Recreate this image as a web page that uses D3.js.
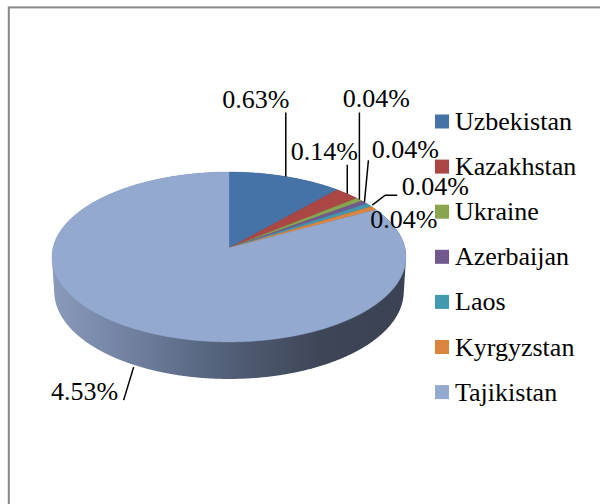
<!DOCTYPE html>
<html>
<head>
<meta charset="utf-8">
<script src="https://cdn.jsdelivr.net/npm/d3@7"></script>
<style>
  body { margin: 0; background: #fff; }
</style>
</head>
<body>
<div id="viz"></div>
<script>
'use strict';

var countries = ['Uzbekistan', 'Kazakhstan', 'Ukraine', 'Azerbaijan', 'Laos', 'Kyrgyzstan', 'Tajikistan'];
var shares = [0.63, 0.14, 0.04, 0.04, 0.04, 0.04, 4.53];
var labels = ['0.63%', '0.14%', '0.04%', '0.04%', '0.04%', '0.04%', '4.53%'];
var colors = ['#4572A7', '#AA4643', '#89A54E', '#71588F', '#4198AF', '#DB843D', '#93A9CF'];

var width = 600,
    height = 504;

// label layout: text offset from slice anchor and leader polyline (offsets)
var labelOffsets = [[-30, -69], [-23, -34], [17, -93], [41, -44], [66, -10], [30, 20], [-47, 36]];
var leaders = [
    [[0, 0], [0, -64]],
    [[0, 0], [0, -29]],
    [[0, 0], [0, -87]],
    [[0, 0], [4, -42]],
    [[3, 0], [16, -10], [28, -10]],
    [],
    [[2, 3], [-8, 36]]
];

// perspective 3D pie
var cx = 229, cy = 248,
    dist = 8.3, focal = 1461,
    tilt = 28.5 * Math.PI / 180,
    depth = 0.225;

function project(theta, r, z) {
    var x = r * Math.sin(theta),
        y = -r * Math.cos(theta);
    var v = y * Math.sin(tilt) - z * Math.cos(tilt);
    var d = dist - y * Math.cos(tilt) - z * Math.sin(tilt);
    return [cx + focal * x / d, cy + focal * v / d];
}

function rim(a0, a1, z) {
    var pts = [];
    var n = Math.max(2, Math.ceil((a1 - a0) / 0.005));
    for (var i = 0; i <= n; i++) {
        pts.push(project(a0 + (a1 - a0) * i / n, 1, z));
    }
    return pts;
}

var svg = d3.select('#viz').append('svg')
    .attr('width', width)
    .attr('height', height)
    .attr('font-family', "'Liberation Serif', 'DejaVu Serif', 'Times New Roman', serif")
    .attr('font-size', 26);

svg.append('rect')
    .attr('x', 8.8)
    .attr('y', 7.4)
    .attr('width', 700)
    .attr('height', 700)
    .attr('fill', 'none')
    .attr('stroke', '#888')
    .attr('stroke-width', 2);

var pie = d3.pie().sort(null).value(d => d)(shares);

var grad = svg.append('defs').append('linearGradient')
    .attr('id', 'side')
    .attr('gradientUnits', 'userSpaceOnUse')
    .attr('x1', 53).attr('x2', 405)
    .attr('y1', 0).attr('y2', 0);
grad.selectAll('stop')
    .data([[0, '#8a9abb'], [0.25, '#6e7d9c'], [0.44, '#57657f'], [0.63, '#485267'], [0.77, '#3d4556'], [1, '#3b4253']])
    .enter().append('stop')
    .attr('offset', d => d[0])
    .attr('stop-color', d => d[1]);

// side wall: hull of top and bottom rims
var hull = d3.polygonHull(rim(0, 2 * Math.PI, 0).concat(rim(0, 2 * Math.PI, -depth)));
svg.append('path')
    .attr('d', 'M' + hull.join('L') + 'Z')
    .attr('fill', 'url(#side)');

// top surface slices
svg.append('g')
    .selectAll('path')
    .data(pie)
    .enter().append('path')
    .attr('d', function(d) {
        var pts = [[cx, cy]].concat(rim(d.startAngle, d.endAngle, 0));
        return 'M' + pts.join('L') + 'Z';
    })
    .attr('fill', (d, i) => colors[i])
    .attr('stroke', (d, i) => colors[i])
    .attr('stroke-width', 0.4);

// data labels
var anchors = pie.map(function(d, i) {
    var mid = (d.startAngle + d.endAngle) / 2;
    var y = -Math.cos(mid);
    return project(mid, 1, y > 0.3 ? -depth : 0);
});

var lab = svg.append('g');
lab.selectAll('polyline')
    .data(leaders)
    .enter().append('polyline')
    .attr('points', (d, i) => d.map(p => [anchors[i][0] + p[0], anchors[i][1] + p[1]]).join(' '))
    .attr('fill', 'none')
    .attr('stroke', '#000')
    .attr('stroke-width', 1.5);
lab.selectAll('text')
    .data(labels)
    .enter().append('text')
    .attr('x', (d, i) => anchors[i][0] + labelOffsets[i][0])
    .attr('y', (d, i) => anchors[i][1] + labelOffsets[i][1])
    .attr('text-anchor', 'middle')
    .text(d => d);

// legend
var legend = svg.append('g')
    .attr('transform', 'translate(435,0)');
var item = legend.selectAll('g')
    .data(countries)
    .enter().append('g')
    .attr('transform', (d, i) => 'translate(0,' + (121.5 + i * 45.1) + ')');
item.append('rect')
    .attr('x', 0)
    .attr('y', -7)
    .attr('width', 14)
    .attr('height', 14)
    .attr('fill', (d, i) => colors[i]);
item.append('text')
    .attr('x', 20)
    .attr('y', 8.5)
    .text(d => d);
</script>
</body>
</html>
